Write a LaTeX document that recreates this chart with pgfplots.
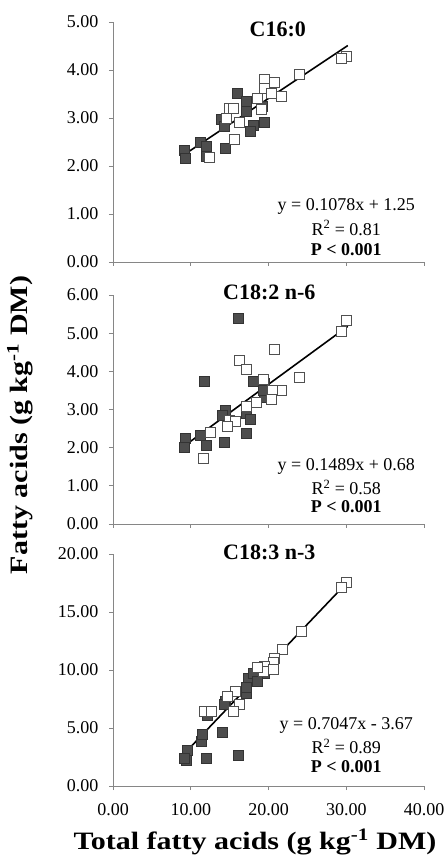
\documentclass[border=0pt]{standalone}
\usepackage{fontspec}
\setmainfont{Liberation Serif}
\usepackage{pgfplots}
\pgfplotsset{compat=1.18}

\definecolor{axisgray}{HTML}{868686}
\definecolor{darkfill}{HTML}{4D4D4D}
\definecolor{darkedge}{HTML}{333333}
\definecolor{openedge}{HTML}{505050}

\pgfplotsset{
  panel/.style={
    scale only axis, width=311pt,
    xmin=0, xmax=40, xtick={0,10,20,30,40},
    axis x line=bottom, axis y line=left,
    axis line style={-, color=axisgray, line width=0.8pt},
    tick style={color=axisgray, line width=0.8pt},
    tick align=outside, major tick length=4pt,
    clip=false,
    ticklabel style={font=\fontsize{18}{20}\selectfont},
    yticklabel style={xshift=-7pt},
    xticklabel style={yshift=-10pt},
    /pgf/number format/.cd, fixed, fixed zerofill, precision=2, assume math mode=true,
  },
  filled/.style={only marks, mark=square*, mark size=5pt,
    mark options={fill=darkfill, draw=darkedge, line width=0.6pt}},
  open/.style={only marks, mark=square*, mark size=5pt,
    mark options={fill=white, draw=openedge, line width=0.6pt}},
  trend/.style={black, line width=1.6pt, no marks},
}

\begin{document}
\begin{tikzpicture}[x=1pt,y=1pt]
\useasboundingbox (0,0) rectangle (447,855);

% C16:0
\begin{axis}[panel, at={(113pt,593pt)}, anchor=south west, height=240pt,
  ymin=0, ymax=5, ytick={0,1,...,5}, xticklabels={}]
\addplot[filled] coordinates {
  (16.0,3.51) (17.2,3.34) (17.1,3.13) (13.9,2.98) (14.3,2.82) (18.0,2.84)
  (17.6,2.73) (19.5,2.92) (19.2,3.24) (14.5,2.36) (11.2,2.49) (12.0,2.40)
  (12.0,2.21) (9.2,2.32) (9.3,2.17)
};
\addplot[open] coordinates {
  (30.0,4.28) (29.3,4.25) (23.9,3.90) (19.4,3.81) (20.8,3.74) (19.4,3.62)
  (20.4,3.51) (21.6,3.46) (18.5,3.41) (14.9,3.20) (15.5,3.21) (19.1,3.18)
  (14.6,2.99) (16.3,2.92) (15.6,2.56) (12.4,2.19)
};
\addplot[trend] coordinates {(9,2.22) (30.2,4.51)};
\node[font=\fontsize{22}{24}\selectfont\bfseries] at (axis cs:21.2,4.85) {C16:0};
\node[font=\fontsize{18}{20}\selectfont] at (axis cs:30,1.15) {y = 0.1078x + 1.25};
\node[font=\fontsize{18}{20}\selectfont] at (axis cs:30,0.71) {R\textsuperscript{2} = 0.81};
\node[font=\fontsize{18}{20}\selectfont\bfseries] at (axis cs:30,0.25) {P < 0.001};
\end{axis}

% C18:2 n-6
\begin{axis}[panel, at={(113pt,331pt)}, anchor=south west, height=229pt,
  ymin=0, ymax=6, ytick={0,1,...,6}, xticklabels={}]
\addplot[filled] coordinates {
  (16.1,5.38) (11.7,3.73) (18.0,3.75) (19.5,3.68) (19.4,3.33) (19.3,3.51)
  (14.5,2.98) (14.0,2.85) (17.1,2.90) (17.6,2.74) (17.2,2.37) (14.3,2.15)
  (11.2,2.33) (9.3,2.24) (12.0,2.05) (9.2,2.02)
};
\addplot[open] coordinates {
  (30.0,5.34) (29.3,5.05) (20.8,4.58) (16.3,4.29) (17.2,4.05) (23.9,3.84)
  (21.7,3.51) (20.5,3.51) (19.3,3.80) (20.4,3.26) (18.4,3.18) (17.2,3.09)
  (15.0,2.72) (15.7,2.70) (14.7,2.55) (12.5,2.39) (11.6,1.72)
};
\addplot[trend] coordinates {(9,2.02) (30.2,5.18)};
\node[font=\fontsize{22}{24}\selectfont\bfseries] at (axis cs:20.1,6.07) {C18:2 n-6};
\node[font=\fontsize{18}{20}\selectfont] at (axis cs:30,1.52) {y = 0.1489x + 0.68};
\node[font=\fontsize{18}{20}\selectfont] at (axis cs:30,0.95) {R\textsuperscript{2} = 0.58};
\node[font=\fontsize{18}{20}\selectfont\bfseries] at (axis cs:30,0.45) {P < 0.001};
\end{axis}

% C18:3 n-3
\begin{axis}[panel, at={(113pt,69pt)}, anchor=south west, height=232pt,
  ymin=0, ymax=20, ytick={0,5,...,20}]
\addplot[filled] coordinates {
  (9.4,2.24) (9.5,3.10) (12.0,2.36) (16.1,2.67) (14.0,4.63) (11.4,3.82)
  (11.5,4.48) (12.1,6.12) (14.5,7.27) (17.1,7.99) (17.4,9.28) (18.0,9.71)
  (19.5,9.71) (18.5,9.0) (17.2,8.5) (14.3,7.0) (9.2,2.4)
};
\addplot[open] coordinates {
  (30.0,17.6) (29.3,17.1) (24.2,13.36) (21.8,11.78) (20.8,11.0) (20.6,10.7)
  (19.5,10.34) (20.6,10.1) (19.3,9.9) (15.7,8.13) (14.7,7.76) (16.3,7.07)
  (15.5,6.41) (11.7,6.41) (12.7,6.41) (18.6,10.2)
};
\addplot[trend] coordinates {(9,2.67) (30.2,17.61)};
\node[font=\fontsize{22}{24}\selectfont\bfseries] at (axis cs:20.1,20.1) {C18:3 n-3};
\node[font=\fontsize{18}{20}\selectfont] at (axis cs:30,5.26) {y = 0.7047x - 3.67};
\node[font=\fontsize{18}{20}\selectfont] at (axis cs:30,3.39) {R\textsuperscript{2} = 0.89};
\node[font=\fontsize{18}{20}\selectfont\bfseries] at (axis cs:30,1.67) {P < 0.001};
\end{axis}

\node[font=\fontsize{25}{27}\selectfont\bfseries] at (255,13)
  {\scalebox{1.2}[1]{Total fatty acids (g kg\textsuperscript{-1} DM)}};
\node[font=\fontsize{25}{27}\selectfont\bfseries, rotate=90] at (20,430)
  {\scalebox{1.2}[1]{Fatty acids (g kg\textsuperscript{-1} DM)}};
\end{tikzpicture}
\end{document}
